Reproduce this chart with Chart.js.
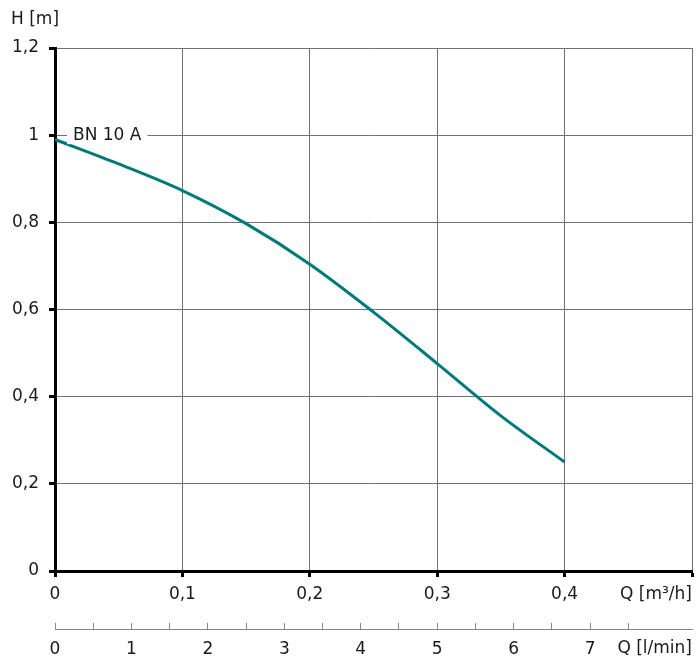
<!DOCTYPE html>
<html>
<head>
<meta charset="utf-8">
<script src="https://cdn.jsdelivr.net/npm/chart.js@4.4.1/dist/chart.umd.min.js"></script>
<style>
  html, body { margin: 0; padding: 0; background: #fff; }
  #wrap { width: 699px; height: 659px; }
</style>
</head>
<body>
<div id="wrap"><canvas id="pumpChart"></canvas></div>
<script>
// pump curve BN 10 A
const flowM3h = [0, 0.05, 0.1, 0.15, 0.2, 0.25, 0.3, 0.35, 0.4];
const headM = [0.99, 0.934, 0.873, 0.797, 0.704, 0.594, 0.476, 0.356, 0.25];
const curveName = 'BN 10 A';

const qMax = 0.5;          // m3/h, right edge
const hMax = 1.2;
const lpmPerM3h = 1000 / 60;

const FONT = 'DejaVu Sans';
const INK = '#1a1a1a';
const GRID = '#707070';

function comma(v) {
  return String(Math.round(v * 10) / 10).replace('.', ',');
}

// titles of axes and the curve label
const textPlugin = {
  id: 'texts',
  afterDraw(chart) {
    const c = chart.ctx;
    const x = chart.scales.x, y = chart.scales.y, x2 = chart.scales.x2;
    c.save();
    c.font = '17px "' + FONT + '"';
    c.fillStyle = INK;
    c.textBaseline = 'middle';

    c.textAlign = 'left';
    c.fillText('H [m]', 11, 20);

    c.textAlign = 'right';
    c.fillText('Q [m³/h]', chart.chartArea.right, x.top + 24);
    c.fillText('Q [l/min]', chart.chartArea.right, x2.top + 20);

    // curve name sits on the 1 m gridline
    const px = x.getPixelForValue(flowM3h[0]) + 18;
    const py = y.getPixelForValue(1);
    const w = c.measureText(curveName).width;
    c.fillStyle = '#fff';
    c.fillRect(px - 6, py - 9, w + 12, 18);
    c.fillStyle = INK;
    c.textAlign = 'left';
    c.fillText(curveName, px, py);
    c.restore();
  }
};

new Chart(document.getElementById('pumpChart'), {
  type: 'scatter',
  data: {
    datasets: [{
      label: curveName,
      data: flowM3h.map((q, i) => ({ x: q, y: headM[i] })),
      showLine: true,
      borderColor: '#007a7c',
      borderWidth: 3,
      pointRadius: 0,
      cubicInterpolationMode: 'monotone'
    }]
  },
  options: {
    responsive: true,
    maintainAspectRatio: false,
    animation: false,
    layout: { padding: { top: 48, right: 6, left: 0, bottom: 0 } },
    plugins: { legend: { display: false }, tooltip: { enabled: false } },
    scales: {
      x: {
        type: 'linear',
        position: 'bottom',
        min: 0,
        max: qMax,
        afterFit: s => { s.height = 58; },
        border: { color: '#000', width: 3 },
        grid: { color: GRID, lineWidth: 1, tickColor: '#000', tickWidth: 3, tickLength: 6 },
        ticks: {
          stepSize: 0.1,
          padding: 7,
          color: INK,
          font: { family: FONT, size: 17 },
          maxRotation: 0,
          callback: v => (Math.abs(v - qMax) < 1e-6 ? '' : comma(v))
        }
      },
      x2: {
        type: 'linear',
        position: 'bottom',
        min: 0,
        max: qMax * lpmPerM3h,
        afterFit: s => { s.height = 30; },
        afterBuildTicks: s => {
          s.ticks = s.ticks.filter(t => Math.abs(t.value * 2 - Math.round(t.value * 2)) < 1e-6);
        },
        border: { color: '#888', width: 1 },
        grid: { drawOnChartArea: false, tickColor: '#888', tickWidth: 1, tickLength: -6 },
        ticks: {
          stepSize: 0.5,
          autoSkip: false,
          padding: 16,
          color: INK,
          font: { family: FONT, size: 17 },
          maxRotation: 0,
          callback: v => (Number.isInteger(v) && v < 8 ? String(v) : '')
        }
      },
      y: {
        type: 'linear',
        min: 0,
        max: hMax,
        afterFit: s => { s.width = 55; },
        border: { color: '#000', width: 3 },
        grid: { color: GRID, lineWidth: 1, tickColor: '#000', tickWidth: 3, tickLength: 6 },
        ticks: {
          stepSize: 0.2,
          padding: 10,
          color: INK,
          font: { family: FONT, size: 17 },
          callback: v => comma(v)
        }
      }
    }
  },
  plugins: [textPlugin]
});
</script>
</body>
</html>
